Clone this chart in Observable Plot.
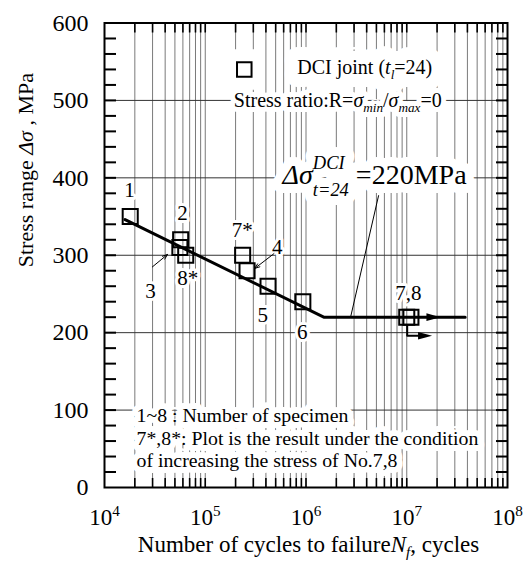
<!DOCTYPE html>
<html><head><meta charset="utf-8">
<script src="https://cdn.jsdelivr.net/npm/d3@7"></script>
<script src="https://cdn.jsdelivr.net/npm/@observablehq/plot@0.6"></script>
<style>
html,body{margin:0;padding:0;background:#fff}
svg{display:block}
svg text, svg tspan{font-family:"Liberation Serif","DejaVu Serif",serif !important}
</style>
</head><body><div id="chart"></div>
<script>
// ---------- data ----------
const specimens   = ["1", "2", "3", "4", "5", "6", "7", "8", "7*", "8*"];
const cycles      = [1.8e4, 5.7e4, 5.6e4, 2.6e5, 4.2e5, 9.3e5, 1.0e7, 1.1e7, 2.35e5, 6.4e4];
const stressRange = [350, 320, 310, 280, 260, 240, 220, 220, 300, 300];

const fitCycles = [1.6e4, 1.5e6, 3.8e7];
const fitStress = [346, 220, 220];

const runoutCycles = [1.01e7, 1.01e7, 1.52e7];
const runoutStress = [210, 196, 196];
const arrowheadCycles = [1.84e7, 1.52e7];
const arrowheadStress = [220, 196];

const labelTexts  = ["1", "2", "3", "8*", "7*", "4", "5", "6", "7,8"];
const labelCycles = [1.77e4, 5.94e4, 2.86e4, 6.7e4, 2.33e5, 5.18e5, 3.72e5, 9.16e5, 1.04e7];
const labelStress = [384, 354, 254, 270, 332, 310, 222, 201, 251];

const leaderFromCycles = [2.99e4, 4.8e5];
const leaderFromStress = [285, 302];
const leaderToCycles   = [4.22e4, 3.1e5];
const leaderToStress   = [301, 283];

const limitLeaderCycles = [5.25e6, 2.77e6];
const limitLeaderStress = [377, 220];

const xTicks = [1e4, 1e5, 1e6, 1e7, 1e8];
const yTicks = [0, 100, 200, 300, 400, 500, 600];
const yGrid  = [100, 200, 300, 400, 500];
const xMinor = [2e4,3e4,4e4,5e4,6e4,7e4,8e4,9e4,1e5,
                2e5,3e5,4e5,5e5,6e5,7e5,8e5,9e5,1e6,
                2e6,3e6,4e6,5e6,6e6,7e6,8e6,9e6,1e7,
                2e7,3e7,4e7,5e7,6e7,7e7,8e7,9e7];
const yMinor = [20,40,60,80,100,120,140,160,180,200,220,240,260,280,300,
                320,340,360,380,400,420,440,460,480,500,520,540,560,580];

const legendLabel = "DCI joint (|t|_{|l|}=24)";
const ratioLabel  = "Stress ratio:R=|σ|_{|min|}/|σ|_{|max|}=0";
const limitLabel  = "|Δσ|^{|DCI|}_{|t=24|} =220MPa";
const noteLabel   = "1~8 : Number of specimen\n7*,8*: Plot is the result under the condition\nof increasing the stress of No.7,8";
const xTitle = "Number of cycles to failure|N|_{|f|}, cycles";
const yTitle = "Stress range |Δσ| , MPa";

// ---------- layout ----------
const W = 531, H = 569, mL = 104, mR = 24, mT = 22.5, mB = 82;
const innerW = W - mL - mR, innerH = H - mT - mB;
const FONT = "Liberation Serif";

const arrowSymbol = {
  draw(ctx, size) {
    const r = Math.sqrt(size / Math.PI);
    ctx.moveTo(r, 0); ctx.lineTo(-r, -0.55 * r); ctx.lineTo(-r, 0.55 * r); ctx.closePath();
  }
};

// white halo layer (breaks the grid) + black text layer
function halo(data, opts, w) {
  return Plot.text(data, {...opts, fontFamily: FONT, fill: "white", stroke: "white", strokeWidth: w, strokeLinejoin: "round"});
}
function label(data, opts) {
  return Plot.text(data, {...opts, fontFamily: FONT, fill: "black"});
}

const legendOpts = {x: 8.2e5, y: 543, text: d => d, textAnchor: "start", fontSize: 20};
const ratioOpts  = {x: 1.92e5, y: 500, text: d => d, textAnchor: "start", fontSize: 20};
const limitOpts  = {x: 5.85e5, y: 403, text: d => d, textAnchor: "start", fontSize: 28};
const noteOpts   = {x: 2.08e4, y: 64.5, text: d => d, textAnchor: "start", lineAnchor: "middle", lineHeight: 1.12, fontSize: 19.8};
const specOpts   = {x: (d, i) => labelCycles[i], y: (d, i) => labelStress[i], text: d => d, fontSize: 21};
const legendSym  = {x: 2.44e5, y: 540, symbol: "square", r: 8.2};

const chart = Plot.plot({
  width: W, height: H,
  marginLeft: mL, marginRight: mR, marginTop: mT, marginBottom: mB,
  style: {fontFamily: FONT, background: "white", color: "black"},
  x: {type: "log", domain: [1e4, 1e8]},
  y: {domain: [0, 600]},
  marks: [
    Plot.ruleX(xMinor, {stroke: "#7a7a7a", strokeWidth: 1}),
    Plot.ruleY(yGrid, {stroke: "#333", strokeWidth: 1}),
    halo([legendLabel], legendOpts, 26),
    Plot.dot([legendLabel], {...legendSym, fill: "white", stroke: "white", strokeWidth: 26}),
    halo([ratioLabel], ratioOpts, 10),
    halo([limitLabel], limitOpts, 18),
    halo([noteLabel], noteOpts, 12),
    halo(labelTexts, specOpts, 6),
    // S-N line and run-outs
    Plot.line(fitCycles, {x: d => d, y: (d, i) => fitStress[i], stroke: "black", strokeWidth: 3}),
    Plot.line(runoutCycles, {x: d => d, y: (d, i) => runoutStress[i], stroke: "black", strokeWidth: 2}),
    Plot.dot(arrowheadCycles, {x: d => d, y: (d, i) => arrowheadStress[i], symbol: arrowSymbol, r: 7, fill: "black", stroke: null}),
    Plot.line(limitLeaderCycles, {x: d => d, y: (d, i) => limitLeaderStress[i], stroke: "black", strokeWidth: 1}),
    Plot.arrow(leaderFromCycles, {x1: d => d, y1: (d, i) => leaderFromStress[i], x2: (d, i) => leaderToCycles[i], y2: (d, i) => leaderToStress[i], stroke: "black", strokeWidth: 1, headLength: 8, headAngle: 40}),
    // specimens
    Plot.dot(specimens, {x: (d, i) => cycles[i], y: (d, i) => stressRange[i], symbol: "square", r: 8.5, stroke: "black", strokeWidth: 2, fill: "none"}),
    // legend symbol
    Plot.dot([legendLabel], {...legendSym, stroke: "black", strokeWidth: 2, fill: "none"}),
    // text layers
    label([legendLabel], legendOpts),
    label([ratioLabel], ratioOpts),
    label([limitLabel], limitOpts),
    label([noteLabel], noteOpts),
    label(labelTexts, specOpts),
    // inner ticks
    Plot.tickY(yMinor, {insetRight: innerW - 12, stroke: "black", strokeWidth: 2}),
    Plot.tickY(yMinor, {insetLeft: innerW - 11, stroke: "black", strokeWidth: 2}),
    Plot.tickX(xMinor, {insetBottom: innerH - 10, stroke: "black", strokeWidth: 1.6}),
    Plot.tickX(xMinor, {insetTop: innerH - 9, stroke: "black", strokeWidth: 1.6}),
    Plot.frame({stroke: "black", strokeWidth: 2}),
    // axes
    Plot.axisX(xTicks, {tickFormat: d => `10^{${Math.round(Math.log10(d))}}`, tickSize: 0, tickPadding: 21, fontSize: 23, fontFamily: FONT, label: null}),
    Plot.axisY(yTicks, {tickSize: 0, tickPadding: 16, fontSize: 24, fontFamily: FONT, label: null}),
    label([xTitle], {frameAnchor: "bottom", dx: 2.5, dy: 64, text: d => d, fontSize: 23}),
    label([yTitle], {frameAnchor: "left", rotate: -90, dx: -79, dy: 12, text: d => d, fontSize: 22})
  ]
});

document.getElementById("chart").appendChild(chart);

// ---------- rich text (italics, sub/superscripts) ----------
function parseRich(s) {
  const runs = []; let italic = false, mode = "normal", buf = "";
  const flush = () => { if (buf) runs.push({text: buf, italic, mode}); buf = ""; };
  for (let i = 0; i < s.length; i++) {
    const c = s[i];
    if (c === "|") { flush(); italic = !italic; }
    else if ((c === "_" || c === "^") && s[i + 1] === "{") { flush(); mode = c === "_" ? "sub" : "sup"; i++; }
    else if (c === "}" && mode !== "normal") { flush(); mode = "normal"; }
    else buf += c;
  }
  flush();
  return runs;
}
function richify(el) {
  if (el.querySelector("tspan")) return;
  const src = el.textContent;
  if (!/\||_\{|\^\{/.test(src)) return;
  const runs = parseRich(src);
  const fs = parseFloat(getComputedStyle(el).fontSize);
  el.textContent = "";
  let cur = 0, supLen = 0, pendingDx = 0;
  runs.forEach((r, k) => {
    const t = document.createElementNS("http://www.w3.org/2000/svg", "tspan");
    t.textContent = r.text;
    if (r.italic) t.setAttribute("font-style", "italic");
    const stacked = (r.mode === "sup" && runs[k + 1] && runs[k + 1].mode === "sub") ||
                    (r.mode === "sub" && runs[k - 1] && runs[k - 1].mode === "sup");
    let target = 0;
    if (r.mode === "sub") target = (stacked ? 0.42 : 0.25) * fs;
    if (r.mode === "sup") target = (stacked ? -0.55 : -0.4) * fs;
    if (r.mode !== "normal") t.setAttribute("font-size", (0.66 * fs).toFixed(2));
    t.setAttribute("dy", (target - cur).toFixed(2));
    cur = target;
    if (r.mode === "sub" && stacked) t.setAttribute("dx", (-supLen).toFixed(2));
    else if (pendingDx) t.setAttribute("dx", pendingDx.toFixed(2));
    pendingDx = 0;
    el.appendChild(t);
    const len = t.getComputedTextLength();
    if (r.mode === "sup") supLen = len;
    if (r.mode === "sub" && stacked) pendingDx = Math.max(0, supLen - len);
  });
}
chart.querySelectorAll("text").forEach(richify);
</script>
</body></html>
